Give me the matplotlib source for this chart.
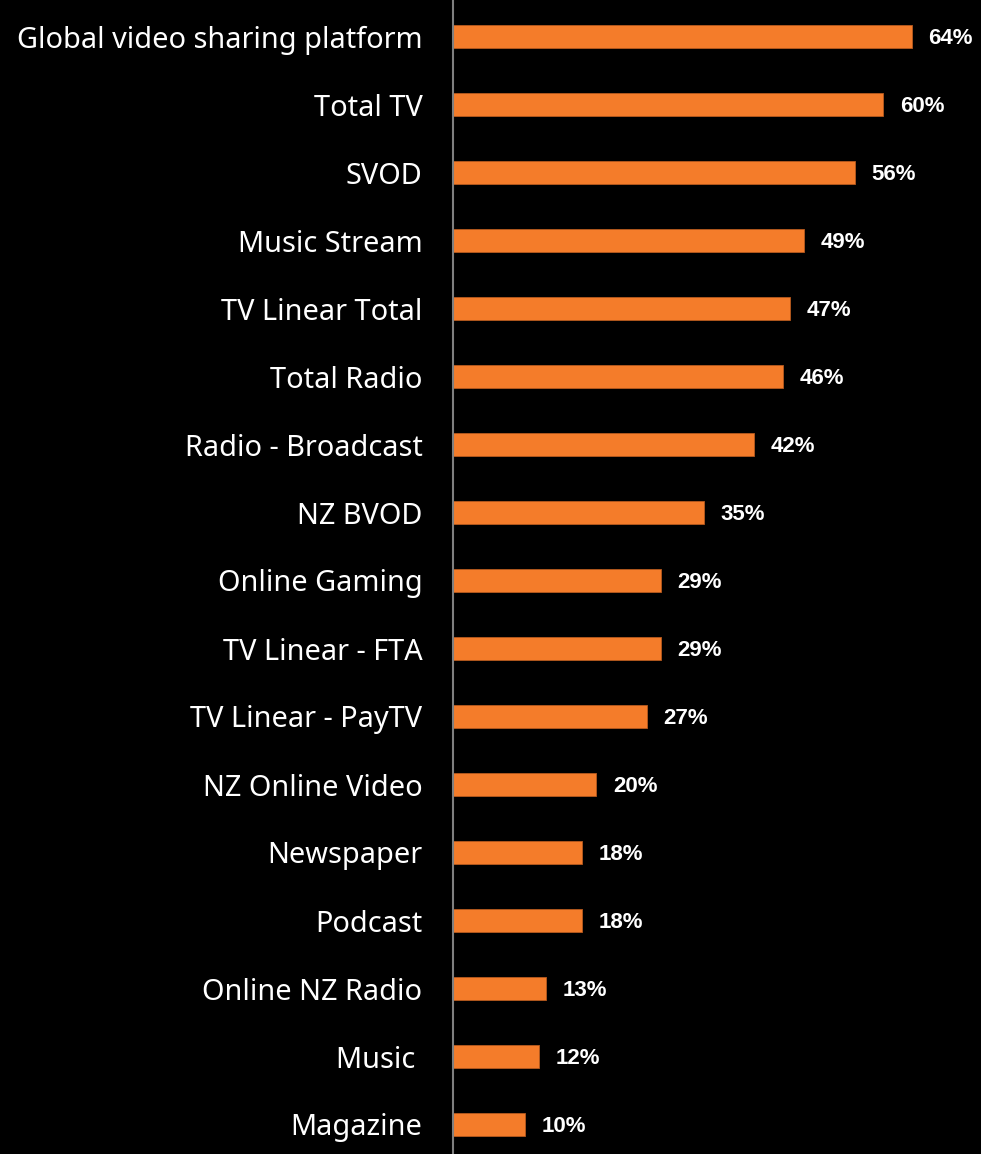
import matplotlib.pyplot as plt

# Share of people using each media type
categories = [
    'Global video sharing platform', 'Total TV', 'SVOD', 'Music Stream',
    'TV Linear Total', 'Total Radio', 'Radio - Broadcast', 'NZ BVOD',
    'Online Gaming', 'TV Linear - FTA', 'TV Linear - PayTV', 'NZ Online Video',
    'Newspaper', 'Podcast', 'Online NZ Radio', 'Music ', 'Magazine',
]
values = [64, 60, 56, 49, 47, 46, 42, 35, 29, 29, 27, 20, 18, 18, 13, 12, 10]

BAR_COLOR = '#F47C2A'
W, H, DPI = 981, 1154, 100

fig = plt.figure(figsize=(W / DPI, H / DPI), dpi=DPI, facecolor='black')
ax = fig.add_axes([453 / W, 0, 1 - 453 / W, 1])
ax.set_facecolor('black')

px_per_pct = 7.17
row = 68.0
first = 36.5

ypos = list(range(len(categories)))
ax.barh(ypos, values, height=23 / row, color=BAR_COLOR,
        edgecolor='#B85A1E', linewidth=0.6)

ax.set_xlim(0, (W - 453) / px_per_pct)
ax.set_ylim((H - first) / row, -first / row)

ax.set_yticks(ypos)
ax.set_yticklabels(categories, fontsize=20.8, color='white', family='Noto Sans')
ax.tick_params(axis='y', length=0, pad=22)
ax.set_xticks([])

for s in ['top', 'right', 'bottom']:
    ax.spines[s].set_visible(False)
ax.spines['left'].set_color('#7f7f7f')
ax.spines['left'].set_linewidth(1.5)

for y, v in zip(ypos, values):
    ax.annotate(f'{v}%', xy=(v, y), xytext=(12, -1.5), textcoords='offset points',
                va='center', ha='left', color='white', fontsize=16,
                fontweight='bold', family='Liberation Sans')

fig.savefig('out.png', dpi=DPI, facecolor='black')
